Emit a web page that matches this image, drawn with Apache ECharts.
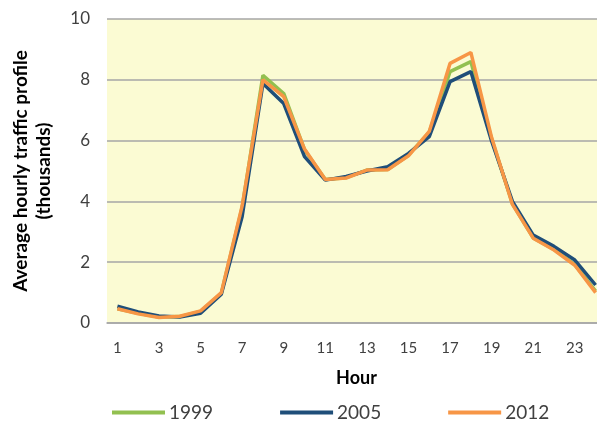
<!DOCTYPE html>
<html><head><meta charset="utf-8">
<script src="https://cdn.jsdelivr.net/npm/echarts@6/dist/echarts.min.js"></script>
<style>html,body{margin:0;padding:0;background:#fff}#c{width:597px;height:421px}</style>
</head><body><div id="c"></div>
<script>
const hours = ['1','2','3','4','5','6','7','8','9','10','11','12','13','14','15','16','17','18','19','20','21','22','23','24'];
const y1999 = [0.47,0.32,0.2,0.21,0.38,0.98,3.8,8.15,7.55,5.7,4.72,4.78,5.03,5.05,5.52,6.28,8.27,8.6,6.05,3.92,2.8,2.42,1.92,1.05];
const y2005 = [0.55,0.36,0.23,0.2,0.32,0.95,3.5,7.88,7.22,5.47,4.7,4.82,5.0,5.14,5.58,6.13,7.94,8.27,5.98,4.0,2.89,2.52,2.07,1.25];
const y2012 = [0.47,0.3,0.18,0.22,0.4,1.0,3.85,8.0,7.45,5.72,4.72,4.77,5.03,5.04,5.5,6.3,8.54,8.9,6.1,3.9,2.79,2.4,1.9,1.0];
const yTicks = [0,2,4,6,8,10];

const font = 'Lato, "Open Sans", sans-serif';
const chart = echarts.init(document.getElementById('c'));
chart.setOption({
  animation: false,
  textStyle: {fontFamily: font},
  grid: {left: 107, top: 19, height: 304, width: 499, show: true, backgroundColor: '#FBFBD3', borderWidth: 0,
         containLabel: false, outerBoundsMode: 'none'},
  legend: {
    left: 107, top: 398, itemWidth: 53, itemHeight: 4, itemGap: 67, icon: 'rect',
    textStyle: {fontSize: 19, color: '#404040', fontFamily: font, padding: [0, 0, 0, -1]},
    data: ['1999','2005','2012']
  },
  xAxis: {
    type: 'category', data: hours, boundaryGap: true,
    name: 'Hour', nameLocation: 'middle', nameGap: 46,
    nameTextStyle: {fontSize: 18, fontWeight: 'bold', color: '#000'},
    axisLine: {lineStyle: {color: '#A6A6A6', width: 1.5}},
    axisTick: {show: false},
    axisLabel: {interval: 1, fontSize: 15, color: '#404040', margin: 18}
  },
  yAxis: {
    type: 'value', min: 0, max: 10, interval: 2,
    name: 'Average hourly traffic profile\n(thousands)', nameLocation: 'middle', nameGap: 52, nameRotate: 90,
    nameTextStyle: {fontSize: 19, fontWeight: 'bold', color: '#000', lineHeight: 23},
    axisLine: {show: false}, axisTick: {show: false},
    splitLine: {lineStyle: {color: '#A6A6A6', width: 1.5}},
    axisLabel: {fontSize: 17, color: '#404040', margin: 17,
      formatter: v => yTicks.includes(v) ? String(v) : ''}
  },
  series: [
    {name: '1999', type: 'line', data: y1999, symbol: 'none', color: '#92C050', lineStyle: {width: 3.5}},
    {name: '2005', type: 'line', data: y2005, symbol: 'none', color: '#1F4E79', lineStyle: {width: 3.5}},
    {name: '2012', type: 'line', data: y2012, symbol: 'none', color: '#F79646', lineStyle: {width: 3.5}}
  ]
});
</script></body></html>
